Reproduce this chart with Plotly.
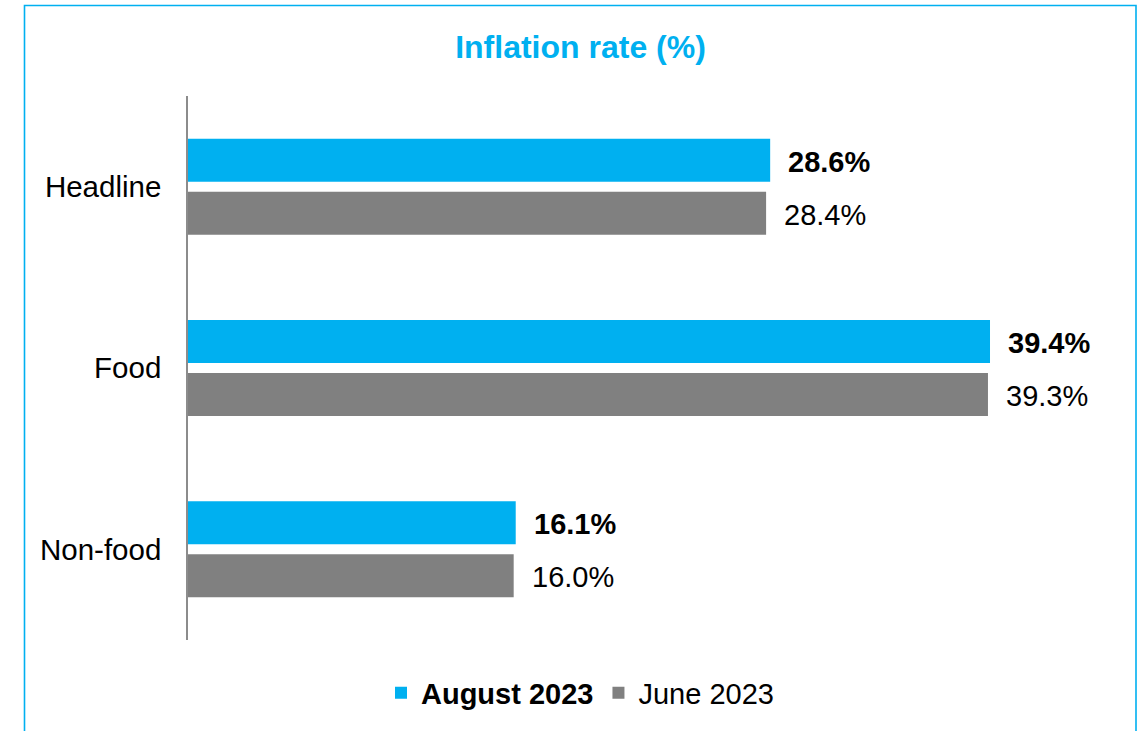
import plotly.graph_objects as go

# Inflation rates by component
categories = ["Headline", "Food", "Non-food"]
aug_2023 = [28.6, 39.4, 16.1]
jun_2023 = [28.4, 39.3, 16.0]
series_names = ["August 2023", "June 2023"]

BLUE = "#00B0F0"
GREY = "#808080"
FONT = "Liberation Sans, Arial, sans-serif"

W, H = 1143, 731
L, R, T, B = 188, 39, 96, 91
plot_w = W - L - R
plot_h = H - T - B


def px_to_paper_x(px):
    return (px - L) / plot_w


def px_to_paper_y(py):
    return (H - B - py) / plot_h


fig = go.Figure()
fig.add_trace(go.Bar(
    y=categories, x=aug_2023, orientation="h",
    name="<b>" + series_names[0] + "</b>",
    marker=dict(color=BLUE, line=dict(width=0)),
    hoverinfo="skip",
))
fig.add_trace(go.Bar(
    y=categories, x=jun_2023, orientation="h",
    name=series_names[1],
    marker=dict(color=GREY, line=dict(width=0)),
    hoverinfo="skip",
))

# Value labels just beyond each bar end
annotations = []
for cat, v in zip(categories, aug_2023):
    annotations.append(dict(
        x=v, y=cat, xref="x", yref="y", text=f"<b>{v:.1f}%</b>",
        showarrow=False, xanchor="left", yanchor="middle",
        xshift=16, yshift=25, font=dict(family=FONT, size=29, color="black"),
    ))
for cat, v in zip(categories, jun_2023):
    annotations.append(dict(
        x=v, y=cat, xref="x", yref="y", text=f"{v:.1f}%",
        showarrow=False, xanchor="left", yanchor="middle",
        xshift=16, yshift=-28, font=dict(family=FONT, size=29, color="black"),
    ))

# Outer frame around the chart
shapes = [dict(
    type="rect", xref="paper", yref="paper",
    x0=px_to_paper_x(24.5), x1=px_to_paper_x(1136),
    y0=px_to_paper_y(740), y1=px_to_paper_y(5.5),
    line=dict(color=BLUE, width=1.6), fillcolor="rgba(0,0,0,0)", layer="above",
)]

fig.update_layout(
    width=W, height=H,
    margin=dict(l=L, r=R, t=T, b=B, autoexpand=False),
    paper_bgcolor="white", plot_bgcolor="white",
    barmode="group", bargap=0.415, bargroupgap=0.19,
    font=dict(family=FONT, size=29, color="black"),
    title=dict(
        text="<b>Inflation rate (%)</b>",
        font=dict(family=FONT, size=32, color=BLUE),
        x=580.5 / W, xref="container", xanchor="center",
        y=1 - 47 / H, yref="container", yanchor="middle",
    ),
    xaxis=dict(
        range=[0, 45], showgrid=False, zeroline=False,
        showticklabels=False, showline=False, ticks="",
    ),
    yaxis=dict(
        autorange="reversed", showgrid=False, zeroline=False,
        showline=True, linecolor="#8c8c8c", linewidth=1.5,
        ticks="", ticklabelstandoff=19,
        tickfont=dict(family=FONT, size=29.5, color="black"),
    ),
    legend=dict(
        orientation="h", x=px_to_paper_x(580), xanchor="center",
        y=px_to_paper_y(693), yanchor="middle",
        font=dict(family=FONT, size=29, color="black"),
        bgcolor="rgba(0,0,0,0)", traceorder="normal",
    ),
    annotations=annotations,
    shapes=shapes,
    showlegend=True,
)

fig.write_html("out.html")
